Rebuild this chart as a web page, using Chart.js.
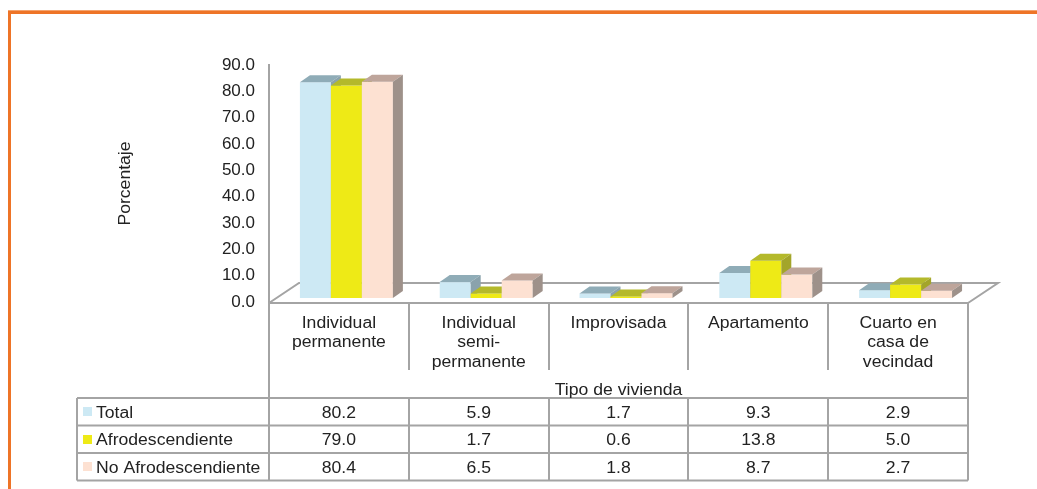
<!DOCTYPE html>
<html lang="es">
<head>
<meta charset="utf-8">
<title>Tipo de vivienda</title>
<script src="https://cdn.jsdelivr.net/npm/chart.js@4.4.1/dist/chart.umd.min.js"></script>
<style>
  html, body { margin: 0; padding: 0; background: #fff; }
  #wrap { position: relative; width: 1037px; height: 489px; }
</style>
</head>
<body>
<div id="wrap"><canvas id="cViv"></canvas></div>
<script>
// ── DATA ─────────────────────────────────────────────────────
const categorias = [
  ['Individual', 'permanente'],
  ['Individual', 'semi-', 'permanente'],
  ['Improvisada'],
  ['Apartamento'],
  ['Cuarto en', 'casa de', 'vecindad'],
];
const series  = ['Total', 'Afrodescendiente', 'No Afrodescendiente'];
const total   = [80.2, 5.9, 1.7, 9.3, 2.9];
const afro    = [79.0, 1.7, 0.6, 13.8, 5.0];
const noAfro  = [80.4, 6.5, 1.8, 8.7, 2.7];
const yMin = 0, yMax = 90, yStep = 10;
const tituloX = 'Tipo de vivienda';
const tituloY = 'Porcentaje';

const valores = [total, afro, noAfro];

// ── STYLE ────────────────────────────────────────────────────
const FONT  = '"Liberation Sans", Arial, sans-serif';
const INK   = '#222222';
const LINE  = '#A4A4A4';
const FACES = [
  { front: '#CDE9F4', top: '#8FACB7', side: '#8AA2AC' },
  { front: '#EEEA16', top: '#B4B92B', side: '#A3A52A' },
  { front: '#FDE1D2', top: '#BEA59B', side: '#9E918A' },
];
const BAR_DX = 10, BAR_DY = -7;     // bar depth
const BAR_SHIFT = 7.5;              // bars sit a little into the floor
const FLOOR_DX = 30, FLOOR_DY = -20;
const STRETCH = 1.1;                // text is drawn slightly wide

function txt(ctx, s, x, y, align) {
  ctx.save();
  ctx.translate(x, y);
  ctx.scale(STRETCH, 1);
  ctx.textAlign = align;
  ctx.textBaseline = 'alphabetic';
  ctx.fillText(s, 0, 0);
  ctx.restore();
}

function poly(ctx, pts, color) {
  ctx.beginPath();
  ctx.moveTo(pts[0][0], pts[0][1]);
  for (let i = 1; i < pts.length; i++) ctx.lineTo(pts[i][0], pts[i][1]);
  ctx.closePath();
  ctx.fillStyle = color;
  ctx.fill();
}

function line(ctx, x1, y1, x2, y2) {
  ctx.beginPath();
  ctx.moveTo(x1, y1);
  ctx.lineTo(x2, y2);
  ctx.stroke();
}

// ── 3D BARS + DATA TABLE ─────────────────────────────────────
const vivienda3d = {
  id: 'vivienda3d',
  beforeDraw(chart) {
    const ctx = chart.ctx;
    ctx.save();
    ctx.fillStyle = '#F4A36E';
    ctx.fillRect(8, 10, chart.width - 8, 1);
    ctx.fillStyle = '#EE7427';
    ctx.fillRect(8, 11, chart.width - 8, 3);
    ctx.fillRect(8, 11, 3, chart.height - 11);
    ctx.restore();
  },
  beforeDatasetsDraw(chart) {
    const { ctx, chartArea: a } = chart;
    const y0 = a.bottom + 1;
    ctx.save();
    ctx.strokeStyle = LINE;
    ctx.lineWidth = 2;
    ctx.beginPath();
    ctx.moveTo(a.left, y0);
    ctx.lineTo(a.left + FLOOR_DX, y0 + FLOOR_DY);
    ctx.lineTo(a.right + FLOOR_DX, y0 + FLOOR_DY);
    ctx.lineTo(a.right, y0);
    ctx.stroke();
    ctx.restore();
  },
  afterDatasetsDraw(chart) {
    const ctx = chart.ctx;
    const metas = valores.map((_, d) => chart.getDatasetMeta(d));
    ctx.save();
    categorias.forEach((_, i) => {
      metas.forEach((meta, d) => {
        const el = meta.data[i];
        const x0 = el.x - el.width / 2 + BAR_SHIFT;
        const x1 = el.x + el.width / 2 + BAR_SHIFT;
        const yt = el.y, yb = el.base;
        const f = FACES[d];
        poly(ctx, [[x0, yt], [x1, yt], [x1, yb], [x0, yb]], f.front);
        poly(ctx, [[x0, yt], [x1, yt], [x1 + BAR_DX, yt + BAR_DY], [x0 + BAR_DX, yt + BAR_DY]], f.top);
        poly(ctx, [[x1, yt], [x1 + BAR_DX, yt + BAR_DY], [x1 + BAR_DX, yb + BAR_DY], [x1, yb]], f.side);
      });
    });
    ctx.restore();
  },
  afterDraw(chart) {
    const { ctx, chartArea: a } = chart;
    const xs = chart.scales.x;
    const n = categorias.length;
    const colW = (a.right - a.left) / n;
    const top = a.bottom + 1;
    const headBottom = 370, titleBottom = 398, rowH = 27.5;
    const tableLeft = 77;
    const tableBottom = titleBottom + rowH * series.length;

    ctx.save();
    ctx.strokeStyle = LINE;
    ctx.lineWidth = 2;
    // category header
    line(ctx, a.left, top, a.right, top);
    line(ctx, a.left, top, a.left, tableBottom);
    line(ctx, a.right, top, a.right, tableBottom);
    for (let i = 1; i < n; i++) {
      const x = Math.round(a.left + colW * i);
      line(ctx, x, top, x, headBottom);
      line(ctx, x, titleBottom, x, tableBottom);
    }
    // data rows
    for (let r = 0; r <= series.length; r++) {
      const y = titleBottom + rowH * r;
      line(ctx, tableLeft, y, a.right, y);
    }
    line(ctx, tableLeft, titleBottom, tableLeft, tableBottom);

    ctx.fillStyle = INK;
    ctx.font = '16px ' + FONT;
    categorias.forEach((lines, i) => {
      const cx = xs.getPixelForValue(i);
      lines.forEach((s, k) => txt(ctx, s, cx, 327.5 + 19.5 * k, 'center'));
    });
    txt(ctx, tituloX, (a.left + a.right) / 2, 394.5, 'center');

    series.forEach((s, r) => {
      const yc = titleBottom + rowH * r + rowH / 2;
      ctx.fillStyle = FACES[r].front;
      ctx.fillRect(83, Math.round(yc - 4.5), 9, 9);
      ctx.fillStyle = INK;
      txt(ctx, s, 96, yc + 6, 'left');
      valores[r].forEach((v, i) => txt(ctx, v.toFixed(1), xs.getPixelForValue(i), yc + 6, 'center'));
    });

    // y axis title
    ctx.save();
    ctx.translate(129.5, (a.top + a.bottom) / 2);
    ctx.rotate(-Math.PI / 2);
    txt(ctx, tituloY, 0, 0, 'center');
    ctx.restore();
    ctx.restore();
  },
};

new Chart(document.getElementById('cViv'), {
  type: 'bar',
  data: {
    labels: categorias.map(c => c.join(' ')),
    datasets: series.map((s, d) => ({
      label: s,
      data: valores[d],
      yAxisID: 'yb',
      backgroundColor: 'rgba(0,0,0,0)',
      borderWidth: 0,
      categoryPercentage: 0.665,
      barPercentage: 1,
    })),
  },
  options: {
    responsive: true,
    maintainAspectRatio: false,
    animation: false,
    layout: { padding: { top: 65, bottom: 187, left: 0, right: 69 } },
    plugins: { legend: { display: false }, tooltip: { enabled: false } },
    scales: {
      x: { display: false, offset: true },
      y: {
        position: 'left',
        min: yMin,
        max: yMax,
        ticks: {
          stepSize: yStep,
          color: INK,
          padding: 14,
          font: { family: FONT, size: 17 },
          callback: v => v.toFixed(1),
        },
        grid: { display: false, drawTicks: false },
        border: { display: true, color: LINE, width: 2 },
        afterFit: s => { s.width = 269; },
      },
      // bars stand a little behind the axis, so their scale is offset
      yb: { display: false, min: -1.49, max: 86.6 },
    },
  },
  plugins: [vivienda3d],
});
</script>
</body>
</html>
